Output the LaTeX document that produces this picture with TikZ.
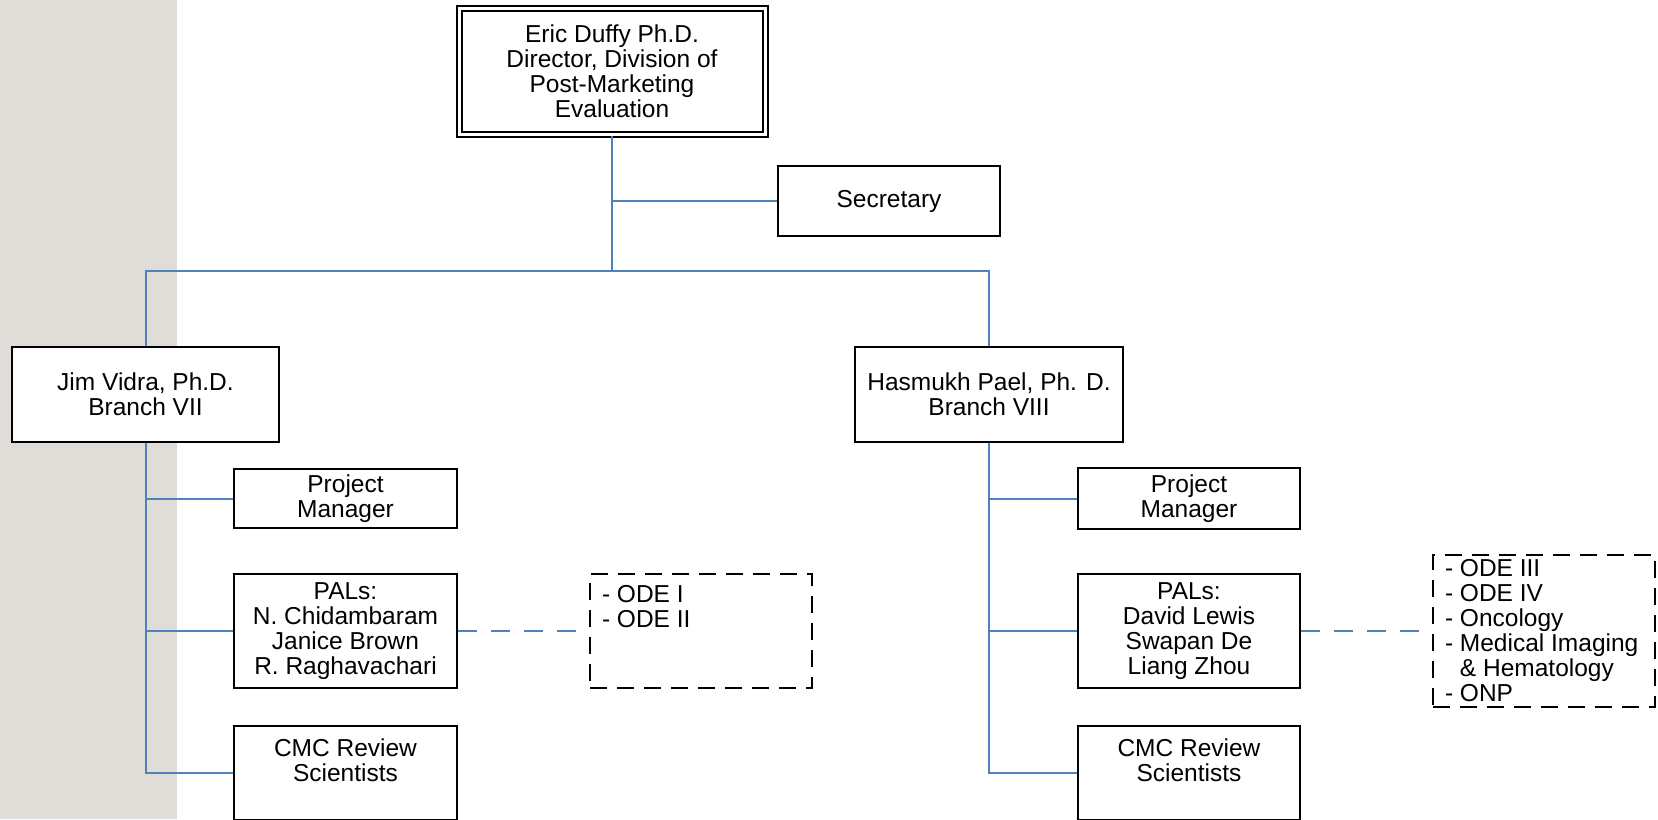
\documentclass[tikz,border=0pt]{standalone}
\usepackage{fontspec}
\setmainfont{Liberation Sans}
\definecolor{linkblue}{HTML}{4F81BD}
\definecolor{bandgray}{HTML}{E0DDD8}
\newcommand{\orgfont}{\fontsize{12.25}{12.5}\selectfont\hyphenpenalty=10000}
\begin{document}
\begin{tikzpicture}[x=0.5pt,y=-0.5pt,
    box/.style={draw=black,fill=white,line width=1.2pt,inner sep=0pt,align=center,font=\orgfont},
    headbox/.style={box,double,line width=1pt,double distance=1.5pt},
    listbox/.style={draw=black,fill=white,line width=1.2pt,dash pattern=on 8.5pt off 5pt,
      inner xsep=6pt,inner ysep=0pt,text width=99pt,align=flush left,font=\orgfont},
    conn/.style={draw=linkblue,line width=1pt},
    dashconn/.style={conn,dash pattern=on 9.5pt off 7pt}]
      \useasboundingbox (0,0) rectangle (1658,819);
      \clip (0,0) rectangle (1658,819);
      \fill[bandgray] (0,0) rectangle (177,819);
      \node[headbox,minimum width=153pt,minimum height=63pt] (dir) at (612,71.5)
        {Eric Duffy Ph.D.\\Director, Division of\\Post-Marketing\\Evaluation};
      \node[box,minimum width=111pt,minimum height=35pt] (sec) at (889,201) {Secretary};
      \coordinate (bus) at (612,271);
      \node[box,minimum width=133.5pt,minimum height=47.5pt] (jim) at (145.5,394.5)
        {Jim Vidra, Ph.D.\\Branch VII};
      \node[box,minimum width=134pt,minimum height=47.5pt] (pael) at (989,394.5)
        {Hasmukh Pael, Ph. D.\\Branch VIII};
      \node[box,minimum width=111.5pt,minimum height=29.5pt] (pmL) at (345.5,498.5)
        {Project\\Manager};
      \node[box,minimum width=111.5pt,minimum height=57pt] (palL) at (345.5,631)
        {PALs:\\N. Chidambaram\\Janice Brown\\R. Raghavachari};
      \node[box,minimum width=111.5pt,minimum height=47pt] (cmcL) at (345.5,773)
        {CMC Review\\Scientists\\~};
      \node[box,minimum width=111pt,minimum height=30.5pt] (pmR) at (1189,498.5)
        {Project\\Manager};
      \node[box,minimum width=111pt,minimum height=57pt] (palR) at (1189,631)
        {PALs:\\David Lewis\\Swapan De\\Liang Zhou};
      \node[box,minimum width=111pt,minimum height=47pt] (cmcR) at (1189,773)
        {CMC Review\\Scientists\\~};
      \node[listbox,minimum height=57pt] (odeL) at (701,631)
        {- ODE I\\- ODE II\\~\\~};
      \node[listbox,minimum height=76pt] (odeR) at (1544,631)
        {- ODE III\\- ODE IV\\- Oncology\\- Medical Imaging\\\hphantom{- }\& Hematology\\- ONP};
      \draw[conn] (dir.south) -- (bus);
      \draw[conn] (sec.west) -- (sec.west -| dir.south);
      \draw[conn] (jim.north) |- (bus) -| (pael.north);
      \foreach \n in {pmL,palL,cmcL}
        \draw[conn] (jim.south) |- (\n.west);
      \foreach \n in {pmR,palR,cmcR}
        \draw[conn] (pael.south) |- (\n.west);
      \draw[dashconn] (palL.east) -- (odeL.west);
      \draw[dashconn] (palR.east) -- (odeR.west);
\end{tikzpicture}
\end{document}
